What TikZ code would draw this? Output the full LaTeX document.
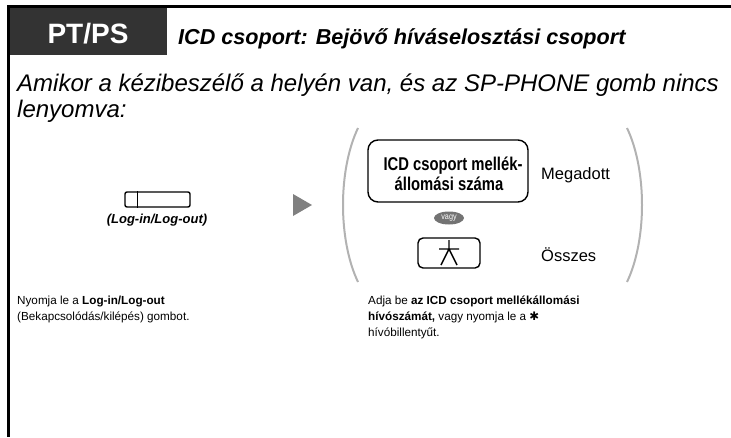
\documentclass[tikz,border=0pt]{standalone}
\usepackage{fontspec}
\usetikzlibrary{shapes.geometric}
\setmainfont{Liberation Sans}
\newfontfamily\symfont{DejaVu Sans}
\newcommand{\cond}[2][0.8]{\scalebox{#1}[1]{#2}}
\begin{document}
\begin{tikzpicture}[x=1pt,y=-1pt,
  frameline/.style={line width=3pt,black},
  keybox/.style={draw,line width=1.4pt,rounded corners=#1},
  paren/.style={draw=black!30,line width=2pt},
  bodytext/.style={font=\fontsize{11.7}{14}\selectfont,anchor=base west,inner sep=0pt},
  icdtext/.style={font=\fontsize{18.5}{20}\selectfont\bfseries,anchor=base,inner sep=0pt},
  sidelabel/.style={font=\fontsize{16.5}{18}\selectfont,anchor=base west,inner sep=0pt}]
\useasboundingbox (0,0) rectangle (731,437);
% frame
\draw[frameline] (7,6.5) -- (731,6.5);
\draw[frameline] (8.5,5) -- (8.5,437);
% header
\node[fill=black!80,minimum width=157pt,minimum height=47pt,anchor=north west,inner sep=0pt] (hdr) at (10,8) {};
\node[text=white,font=\fontsize{28}{30}\selectfont\bfseries,anchor=base,inner sep=0pt] (pt) at (88,43) {PT/PS};
\node[anchor=base west,inner sep=0pt,font=\fontsize{21.6}{23}\selectfont\bfseries\itshape] (title) at (178,44) {ICD csoport: Bejövő híváselosztási csoport};
% subtitle
\node[anchor=base west,inner sep=0pt,font=\fontsize{24}{26}\selectfont\itshape] (sub1) at (17,91) {Amikor a kézibeszélő a helyén van, és az SP-PHONE gomb nincs};
\node[anchor=base west,inner sep=0pt,font=\fontsize{24}{26}\selectfont\itshape] (sub2) at (17,117) {lenyomva:};
% log key
\node[keybox=2pt,minimum width=65pt,minimum height=15pt,inner sep=0pt] (logkey) at (157.5,199.5) {};
\draw[line width=1.4pt] (logkey.north west) ++(13pt,0) coordinate (dv1) -- (dv1 |- logkey.south);
\node[font=\fontsize{13}{14}\selectfont\bfseries\itshape,inner sep=0pt,anchor=base] (loglbl) at (157,223) {(Log-in/Log-out)};
% arrow
\fill[black!50] (293,194) -- (293,216) -- (312,205) -- cycle;
% parentheses
\draw[paren] (358,128) .. controls (338,170) and (338,240) .. (358,282);
\draw[paren] (627,128) .. controls (647,170) and (647,240) .. (627,282);
% ICD box
\node[keybox=10pt,minimum width=160pt,minimum height=62pt,inner sep=0pt] (icd) at (448,171) {};
\node[icdtext] (icd1) at (453,170) {\cond{ICD csoport mellék-}};
\node[icdtext] (icd2) at (449,190) {\cond{állomási száma}};
\node[sidelabel] (meg) at (541,179) {Megadott};
\node[ellipse,fill=black!55,minimum width=30pt,minimum height=13pt,inner sep=0pt,text=white,font=\fontsize{8.5}{9}\selectfont] (vagy) at (449,218) {\cond[0.85]{vagy}};
\node[keybox=5pt,minimum width=62pt,minimum height=30pt,inner sep=0pt] (star) at (449,253) {};
\draw[line width=1.4pt] (439,249) -- (459,249) (449,240) -- (449,249) -- (441,265) (449,249) -- (457,265);
\node[sidelabel] (ossz) at (541,261) {Összes};
% bottom texts
\node[bodytext] (t1a) at (17,304) {Nyomja le a \textbf{Log-in/Log-out}};
\node[bodytext] (t1b) at (17,320) {(Bekapcsolódás/kilépés) gombot.};
\node[bodytext] (t2a) at (368,304) {Adja be \textbf{az ICD csoport mellékállomási}};
\node[bodytext] (t2b) at (368,320) {\textbf{hívószámát,} vagy nyomja le a {\symfont\bfseries ✱}};
\node[bodytext] (t2c) at (368,336) {hívóbillentyűt.};
\end{tikzpicture}
\end{document}
